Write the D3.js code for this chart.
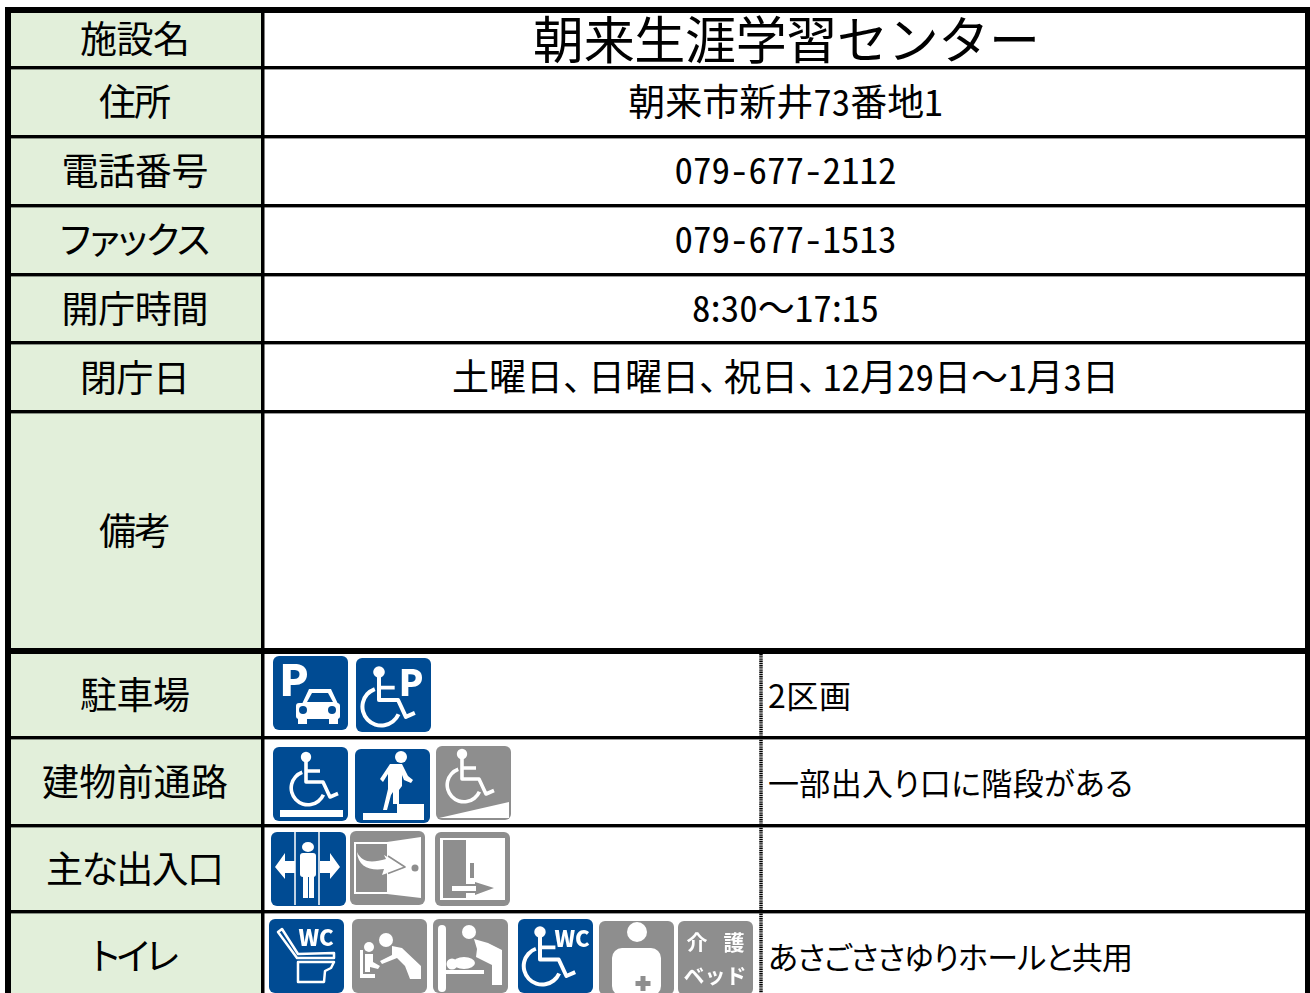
<!DOCTYPE html>
<html lang="ja"><head><meta charset="utf-8">
<script src="https://cdnjs.cloudflare.com/ajax/libs/d3/7.8.5/d3.min.js"></script>
<style>html,body{margin:0;padding:0;background:#fff;overflow:hidden}svg{display:block}
text{font-family:"Noto Sans CJK JP","Noto Sans",sans-serif;fill:#000}
.palt{font-feature-settings:"palt"}.hw{font-feature-settings:"hwid"}.cm{letter-spacing:-12px}</style>
</head><body><svg id="c" width="1310" height="993"></svg>
<script>
// ---- data ----
const rowLabels=["施設名","住所","電話番号","ファックス","開庁時間","閉庁日","備考","駐車場","建物前通路","主な出入口","トイレ"];
const rowValues=["朝来生涯学習センター","朝来市新井73番地1","079-677-2112","079-677-1513","8:30～17:15","土曜日、日曜日、祝日、12月29日～1月3日",""];
const rowNotes=["2区画","一部出入り口に階段がある","","あさごささゆりホールと共用"];
const rowIcons=[["parking","wheelP"],["wheelLevel","stepWalk","ramp"],["autoDoor","swingDoor","slideDoor"],["toilet","babySeat","babyTable","wheelWC","adultBed","careBed"]];
const availableIcons=["parking","wheelP","wheelLevel","stepWalk","autoDoor","toilet","wheelWC"];

// ---- layout ----
const BLUE="#004c93",GREY="#8e8e8e",GREEN="#e2efda";
const rules=[66,135,204,273,341,410,648,736,824,910];
const labelY=d3.scaleOrdinal(rowLabels,[37,100,169,238,307,376,529,693,780,867,954]);
const labelWidth=d3.scaleOrdinal(rowLabels,[110,72,147,150,147,110,72,110,186,178,88]);
const valueY=d3.scaleOrdinal(rowLabels.slice(0,6),[37,100,167.5,236.5,306,375]);
const noteWidth=[83,365,0,365];
const iconBoxes={parking:[273,656],wheelP:[356,658],wheelLevel:[273,747],stepWalk:[355,749],ramp:[436,746],
 autoDoor:[271,832],swingDoor:[350,831],slideDoor:[435,832],toilet:[269,919],babySeat:[352,919],babyTable:[433,919],
 wheelWC:[518,919],adultBed:[599,921],careBed:[678,921]};

const svg=d3.select("#c");
const soft=svg.append("defs").append("filter").attr("id","soft").attr("x",-0.05).attr("y",-0.05).attr("width",1.1).attr("height",1.1);
soft.append("feGaussianBlur").attr("stdDeviation",0.45);
// ---- frame ----
svg.append("rect").attr("x",11).attr("y",13).attr("width",250).attr("height",980).attr("fill",GREEN);
const rl=svg.append("g");
rules.forEach(y=>{
 const thick=y===648;
 rl.append("rect").attr("x",5).attr("y",y).attr("width",1305).attr("height",thick?6:3.4).attr("fill","#000");
});
const bar=(x,y,w,h)=>svg.append("rect").attr("x",x).attr("y",y).attr("width",w).attr("height",h).attr("fill","#000");
bar(5,7,1305,6);bar(5,7,6,986);bar(1305,7,5,986);bar(261,7,3.5,986);
svg.append("line").attr("x1",761).attr("x2",761).attr("y1",654).attr("y2",993).attr("stroke","#000").attr("stroke-width",3.5).attr("stroke-dasharray","1.4 0.8");

// ---- text ----
const cjk=(s,x,y,size,anchor)=>svg.append("text").attr("x",x).attr("y",y).attr("font-size",size).attr("text-anchor",anchor).attr("dominant-baseline","central");
rowLabels.forEach(l=>cjk(l,135,labelY(l),37,"middle").attr("class","palt").attr("textLength",labelWidth(l)).attr("lengthAdjust","spacing").text(l));
rowValues.forEach((v,i)=>{
 if(!v)return;
 const t=cjk(v,785.5,valueY(rowLabels[i]),i===0?51:37,"middle");
 if(i===0){t.attr("x",786.5).attr("textLength",507).text(v);return;}
 v.split(/([0-9\-]+|、)/).filter(Boolean).forEach(run=>{
  t.append("tspan").attr("class",/^[0-9\-]+$/.test(run)?"hw":run==="、"?"cm":null).text(run);
 });
});
rowNotes.forEach((n,i)=>{if(n)cjk(n,768,labelY(rowLabels[7+i])+1,i===0?32:31,"start").attr("class","palt").attr("textLength",noteWidth[i]).attr("lengthAdjust","spacing").text(n)});

// ---- icon helpers (local 75-unit box) ----
const ink=(g,d,sw=3,c="#fff")=>g.append("path").attr("d",d).attr("fill","none").attr("stroke",c).attr("stroke-width",sw).attr("stroke-linejoin","round");
const fillP=(g,d,c="#fff")=>g.append("path").attr("d",d).attr("fill",c);
const dot=(g,x,y,r,c="#fff")=>g.append("circle").attr("cx",x).attr("cy",y).attr("r",r).attr("fill",c);
const box=(g,x,y,w,h,c="#fff",rx=0)=>g.append("rect").attr("x",x).attr("y",y).attr("width",w).attr("height",h).attr("fill",c).attr("rx",rx);
const word=(g,s,x,y,size,weight=700,ls=0)=>g.append("text").attr("x",x).attr("y",y).attr("font-size",size).attr("font-weight",weight).attr("text-anchor","middle").attr("dominant-baseline","central").attr("letter-spacing",ls).style("fill","#fff").text(s);
const arcPath=d3.arc();
function wheelchair(g,x,y,k=1){
 const w=g.append("g").attr("transform",`translate(${x},${y}) scale(${k})`);
 dot(w,0,0,5.2);
 ink(w,"M0,4V25H17L24,40L32,36.5",3.6);
 ink(w,"M0,14H14",3.4);
 w.append("path").attr("transform","translate(2,31)")
  .attr("d",arcPath({innerRadius:15,outerRadius:18.6,startAngle:-0.35,endAngle:-4.3})).attr("fill","#fff");
}
const draw={
 parking(g){word(g,"P",21,21,43,900);
  box(g,23,47,44,16,"#fff",3);fillP(g,"M29,48L36,33H58L65,48Z");fillP(g,"M34,46L39,37H55L60,46Z",BLUE);
  dot(g,30,54,4,BLUE);dot(g,59,54,4,BLUE);box(g,25,62,9,6);box(g,56,62,9,6);},
 wheelP(g){wheelchair(g,23,14,1.12);word(g,"P",55,22,36,900);},
 wheelLevel(g){wheelchair(g,33,10);box(g,7,63,63,7);},
 stepWalk(g){dot(g,46,8,6);fillP(g,"M8,64H42V55H69V71H8Z");
  fillP(g,"M35,15H47L53,27L58,31L56,34L49,31L47,26L47,37L44,41L44,55H38V43L36,46L32,61H28L33,40L33,25L28,33L25,30Z");},
 ramp(g){wheelchair(g,26,8);fillP(g,"M3,72L73,56V72Z");},
 autoDoor(g){ink(g,"M24,0V73",1.5);ink(g,"M48,0V73",1.5);
  g.append("ellipse").attr("cx",37).attr("cy",15).attr("rx",6).attr("ry",5).attr("fill","#fff");
  box(g,29,21,16,24,"#fff",3);box(g,32,43,5,23);box(g,38,43,5,23);
  fillP(g,"M4,35L14,21V29H24V41H14V47Z");fillP(g,"M69,35L59,21V29H49V41H59V47Z");},
 swingDoor(g){box(g,4,11,33,52);box(g,6,13,31,48,GREY);fillP(g,"M37,11L71,6V67L37,63Z");dot(g,65,37,3.5,GREY);
  fillP(g,"M7,21C12,32 22,32 36,28L34,24L55,36L32,44L34,38C20,40 8,36 7,21Z");
  ink(g,"M38,25L55,36L38,42.5",1.6,GREY);},
 slideDoor(g){box(g,5,6,65,62);box(g,8,8,23,58,GREY);box(g,35,31,4,15,GREY);
  fillP(g,"M15,52H40V50L59,56L40,63V61H15Z",GREY);box(g,17,54,24,5);},
 toilet(g){word(g,"WC",47,17,22,900,0);
  ink(g,"M9,13L13,10L29,35L65,34V39H28Z",2.5);ink(g,"M29,43H65L62,49L56,52L55,63H29Z",2.5);},
 babySeat(g){dot(g,34,21,7);dot(g,17,28,5);
  fillP(g,"M40,27L50,29L69,47V60H58L53,47L45,39L30,45L28,42L40,36Z");
  fillP(g,"M8,31H11V55H23V59H8Z");fillP(g,"M13,35H21V43L28,47L26,50L18,48V53H13Z");},
 babyTable(g){box(g,5,6,8,67,"#fff",4);box(g,13,51,38,4);dot(g,36,13,7);dot(g,19,45,5.5);
  g.append("ellipse").attr("cx",31).attr("cy",44).attr("rx",11).attr("ry",6).attr("fill","#fff");
  fillP(g,"M41,20L55,24L69,31V66H59V46L43,38L44,30Z");},
 wheelWC(g){wheelchair(g,22,13,1.1);word(g,"WC",54,18,22,900,0);},
 adultBed(g){dot(g,38,11,10);box(g,13,27,49,48,"#fff",10);box(g,41.5,55,5,15,GREY);box(g,36.5,60,15,5,GREY);},
 careBed(g){word(g,"介",19,20,21);word(g,"護",56,20,21);word(g,"ベッド",37,53,21);}
};
rowIcons.flat().forEach(name=>{
 const [x,y]=iconBoxes[name];
 const g=svg.append("g").attr("transform",`translate(${x},${y})`).attr("filter","url(#soft)");
 const dark=availableIcons.includes(name);
 const clipId="clip-"+name;
 g.append("clipPath").attr("id",clipId).append("rect").attr("width",75).attr("height",74).attr("rx",6);
 const inner=g.append("g").attr("clip-path",`url(#${clipId})`);
 inner.append("rect").attr("width",75).attr("height",74).attr("fill",dark?BLUE:GREY);
 draw[name](inner);
});
</script></body></html>
